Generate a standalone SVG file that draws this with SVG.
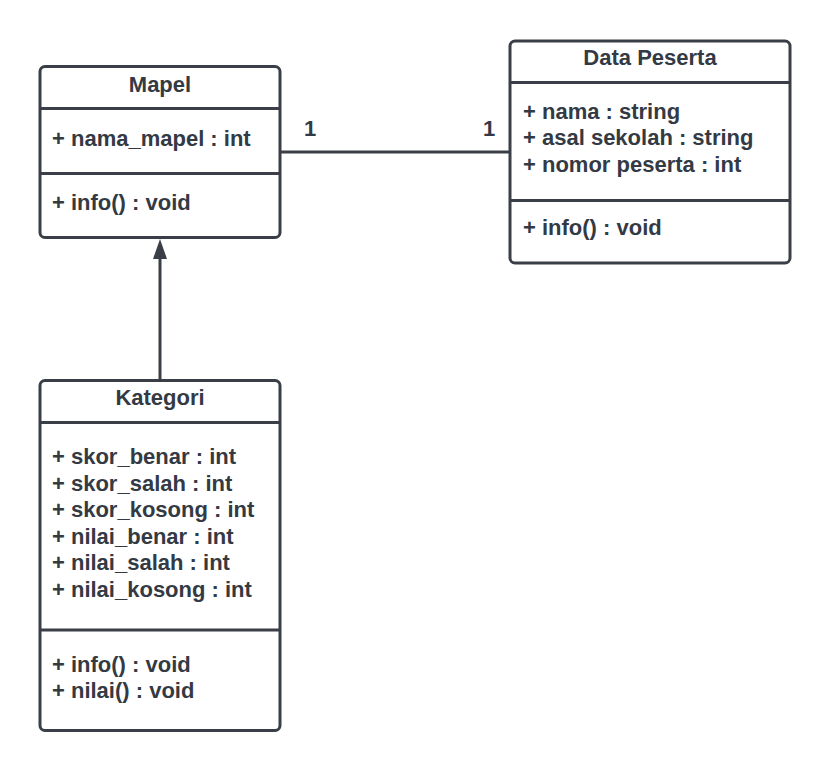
<svg xmlns="http://www.w3.org/2000/svg" width="830" height="771" viewBox="0 0 830 771">
<style>
.box{fill:#ffffff;stroke:#3a3f47;stroke-width:3}
.div{stroke:#3a3f47;stroke-width:3}
.conn{stroke:#3a3f47;stroke-width:3;fill:none}
text{font-family:"Liberation Sans",Arial,sans-serif;font-weight:bold;font-size:22px;fill:#333a44}
.t{text-anchor:middle}
</style>
<defs>
<marker id="tri" markerWidth="20" markerHeight="14" refX="0" refY="7" orient="auto" markerUnits="userSpaceOnUse" viewBox="0 0 20 14">
<path d="M0 0 L20 7 L0 14 Z" fill="#3a3f47"/>
</marker>
</defs>
<rect width="830" height="771" fill="#ffffff"/>
<g id="connectors">
<line class="conn" x1="281" y1="152" x2="509" y2="152"/>
<text x="310" y="136" class="t">1</text>
<text x="489" y="136" class="t">1</text>
<line class="conn" x1="160" y1="380" x2="160" y2="259" marker-end="url(#tri)"/>
</g>
<g id="mapel">
<rect class="box" x="40" y="66.5" width="240" height="171" rx="5"/>
<line class="div" x1="40" y1="108.5" x2="280" y2="108.5"/>
<line class="div" x1="40" y1="173.5" x2="280" y2="173.5"/>
<text x="160" y="92" class="t">Mapel</text>
<text x="52" y="146">+ nama_mapel : int</text>
<text x="52" y="210">+ info() : void</text>
</g>
<g id="data-peserta">
<rect class="box" x="510" y="41" width="280" height="222" rx="5"/>
<line class="div" x1="510" y1="82.5" x2="790" y2="82.5"/>
<line class="div" x1="510" y1="200.5" x2="790" y2="200.5"/>
<text x="650" y="65" class="t">Data Peserta</text>
<text x="523" y="119">+ nama : string</text>
<text x="523" y="145">+ asal sekolah : string</text>
<text x="523" y="171.5">+ nomor peserta : int</text>
<text x="523" y="235">+ info() : void</text>
</g>
<g id="kategori">
<rect class="box" x="40" y="380.5" width="240" height="350" rx="5"/>
<line class="div" x1="40" y1="422.5" x2="280" y2="422.5"/>
<line class="div" x1="40" y1="630" x2="280" y2="630"/>
<text x="160" y="405" class="t">Kategori</text>
<text x="52" y="464">+ skor_benar : int</text>
<text x="52" y="490.5">+ skor_salah : int</text>
<text x="52" y="517">+ skor_kosong : int</text>
<text x="52" y="543.5">+ nilai_benar : int</text>
<text x="52" y="570">+ nilai_salah : int</text>
<text x="52" y="596.5">+ nilai_kosong : int</text>
<text x="52" y="671.5">+ info() : void</text>
<text x="52" y="698">+ nilai() : void</text>
</g>
</svg>
